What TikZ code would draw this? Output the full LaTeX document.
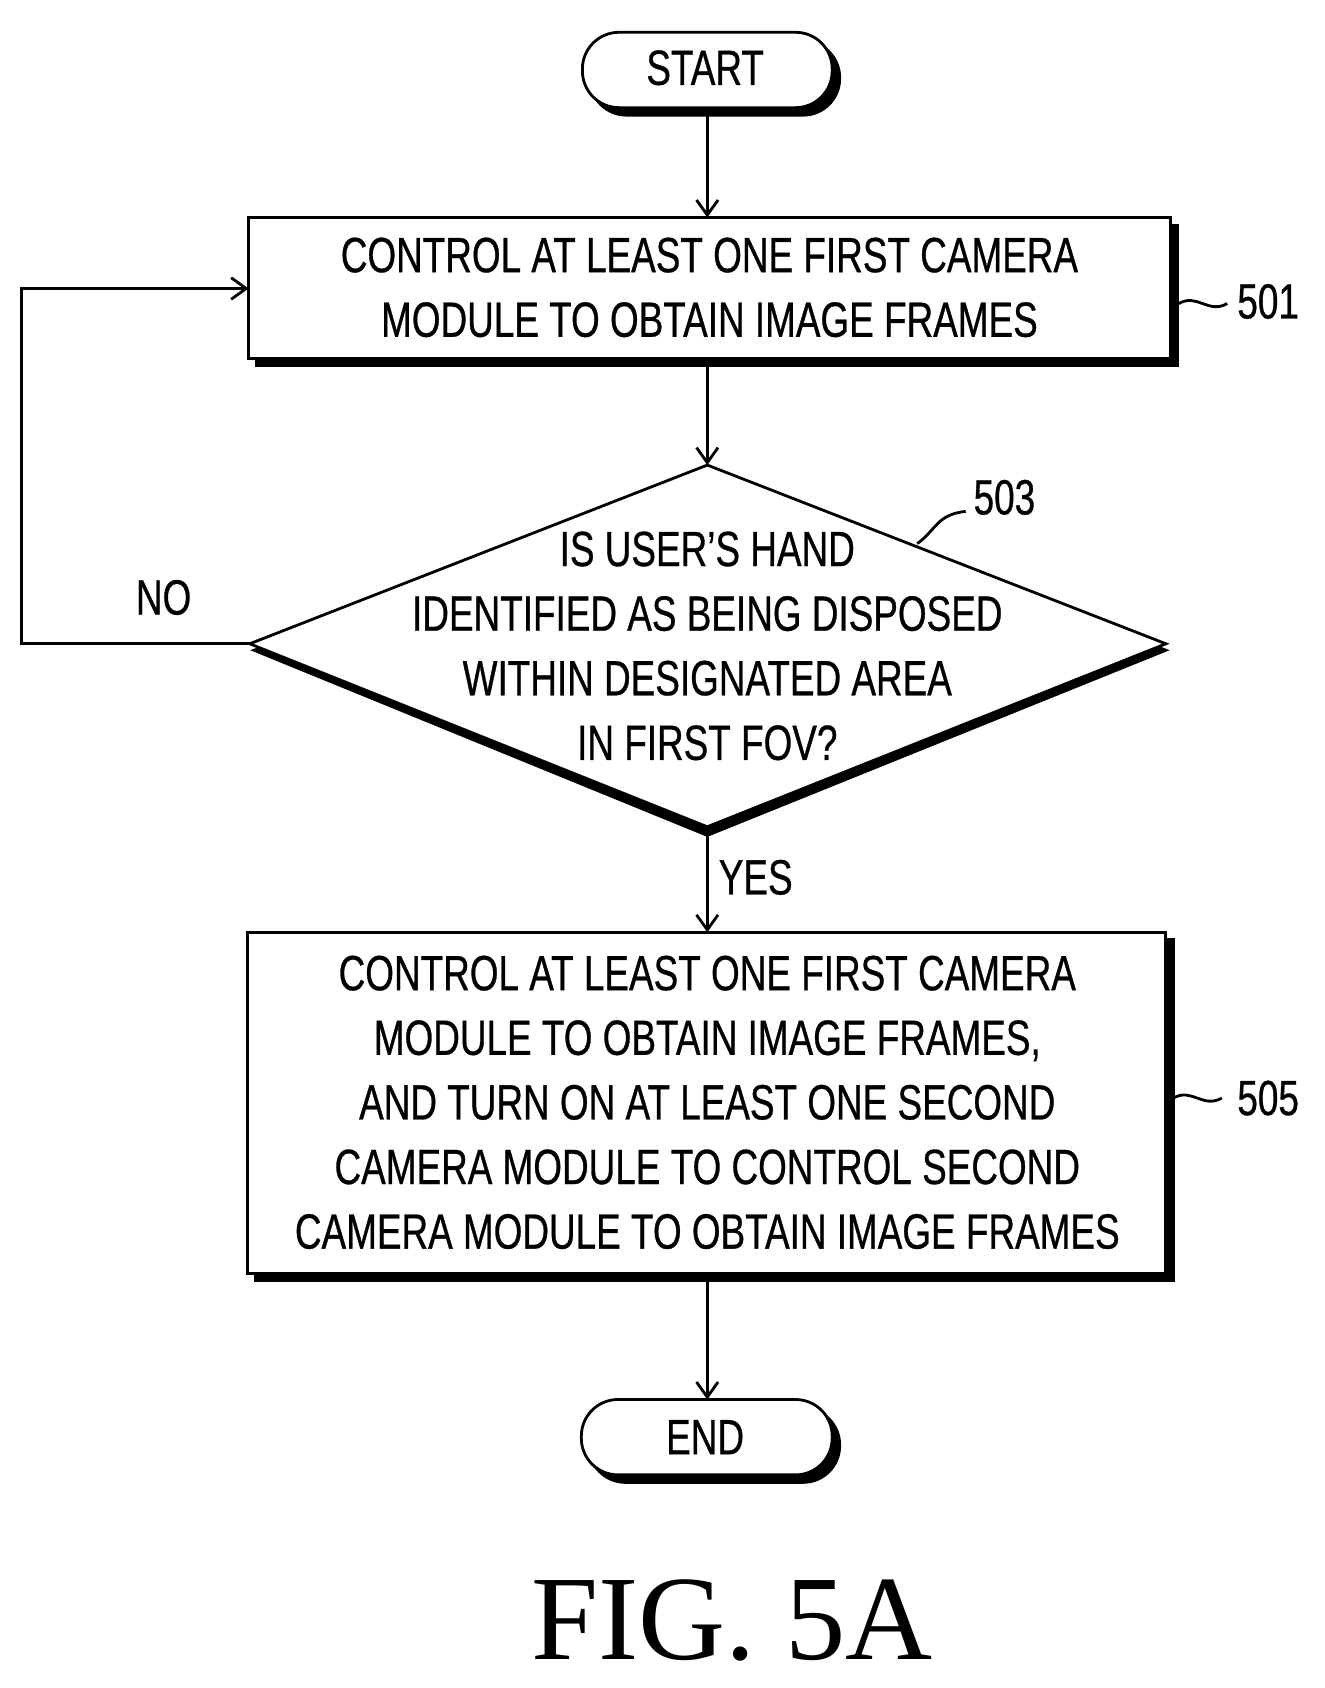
\documentclass[tikz,border=0pt]{standalone}
\usepackage{fontspec}
\setmainfont{Liberation Sans}[FakeStretch=0.745,FakeBold=0.6]
\newfontfamily\capfont{Liberation Serif}
\usetikzlibrary{shapes.geometric,arrows.meta}
\begin{document}
\begin{tikzpicture}[x=1pt,y=-1pt,
  txt/.style={font=\fontsize{46}{60}\selectfont,align=center},
  ln/.style={line width=2.6pt},
  arr/.style={ln,-{Straight Barb[length=14pt,width=20pt,line width=2.6pt]}},
  box/.style={draw,ln,fill=white,inner sep=0pt},
  shad/.style={fill=black,draw=black,ln}]
\useasboundingbox (0,0) rectangle (1230,1568);
% START
\fill[shad,rounded corners=34pt] (548,38) rectangle (780,107);
\draw[box,rounded corners=34pt] (541,30) rectangle (773,100);
\node[txt] (start) at (655,63) {START};
\coordinate (startb) at (657,100);
% box 501
\fill[shad] (238,209) rectangle (1094,340);
\draw[box] (231,202) rectangle (1087,333);
\node[txt] (b1) at (659,267) {CONTROL AT LEAST ONE FIRST CAMERA\\MODULE TO OBTAIN IMAGE FRAMES};
\coordinate (b1t) at (657,202); \coordinate (b1b) at (657,333); \coordinate (b1l) at (231,268);
% diamond
\fill[shad] (236,604) -- (657,440) -- (1083,604) -- (657,776) -- cycle;
\draw[box] (232,598) -- (657,432) -- (1083,598) -- (657,768) -- cycle;
\node[txt] (d) at (657,600) {IS USER'S HAND\\IDENTIFIED AS BEING DISPOSED\\WITHIN DESIGNATED AREA\\IN FIRST FOV?};
\coordinate (dt) at (657,432); \coordinate (db) at (657,768); \coordinate (dl) at (232,598);
% box 505
\fill[shad] (237,873) rectangle (1090,1190);
\draw[box] (230,866) rectangle (1083,1183);
\node[txt] (b2) at (657,1024) {CONTROL AT LEAST ONE FIRST CAMERA\\MODULE TO OBTAIN IMAGE FRAMES,\\AND TURN ON AT LEAST ONE SECOND\\CAMERA MODULE TO CONTROL SECOND\\CAMERA MODULE TO OBTAIN IMAGE FRAMES};
\coordinate (b2t) at (657,866); \coordinate (b2b) at (657,1183);
% END
\fill[shad,rounded corners=34pt] (547,1308) rectangle (780,1377);
\draw[box,rounded corners=34pt] (540,1300) rectangle (773,1370);
\node[txt] (end) at (655,1335) {END};
\coordinate (endt) at (657,1300);
% arrows
\draw[arr] (startb) -- (b1t);
\draw[arr] (b1b) -- (dt);
\draw[arr] (db) -- (b2t);
\draw[arr] (b2b) -- (endt);
\coordinate (c1) at (20,598); \coordinate (c2) at (20,268);
\draw[arr] (dl) -- (c1) -- (c2) -- (b1l);
\node[txt] (no) at (152,555) {NO};
\node[txt] (yes) at (702,815) {YES};
% reference labels
\node[txt] (l501) at (1178,280) {501};
\node[txt] (l503) at (933,462) {503};
\node[txt] (l505) at (1178,1020) {505};
\draw[ln] (1095,282) .. controls (1112,272) and (1122,292) .. (1140,282);
\draw[ln] (1090,1020) .. controls (1107,1010) and (1117,1030) .. (1135,1020);
\draw[ln] (852,505) .. controls (870,492) and (870,478) .. (897,475);
\node[font=\capfont\fontsize{112}{112}\selectfont] (fig) at (680,1505) {FIG. 5A};
\end{tikzpicture}
\end{document}
